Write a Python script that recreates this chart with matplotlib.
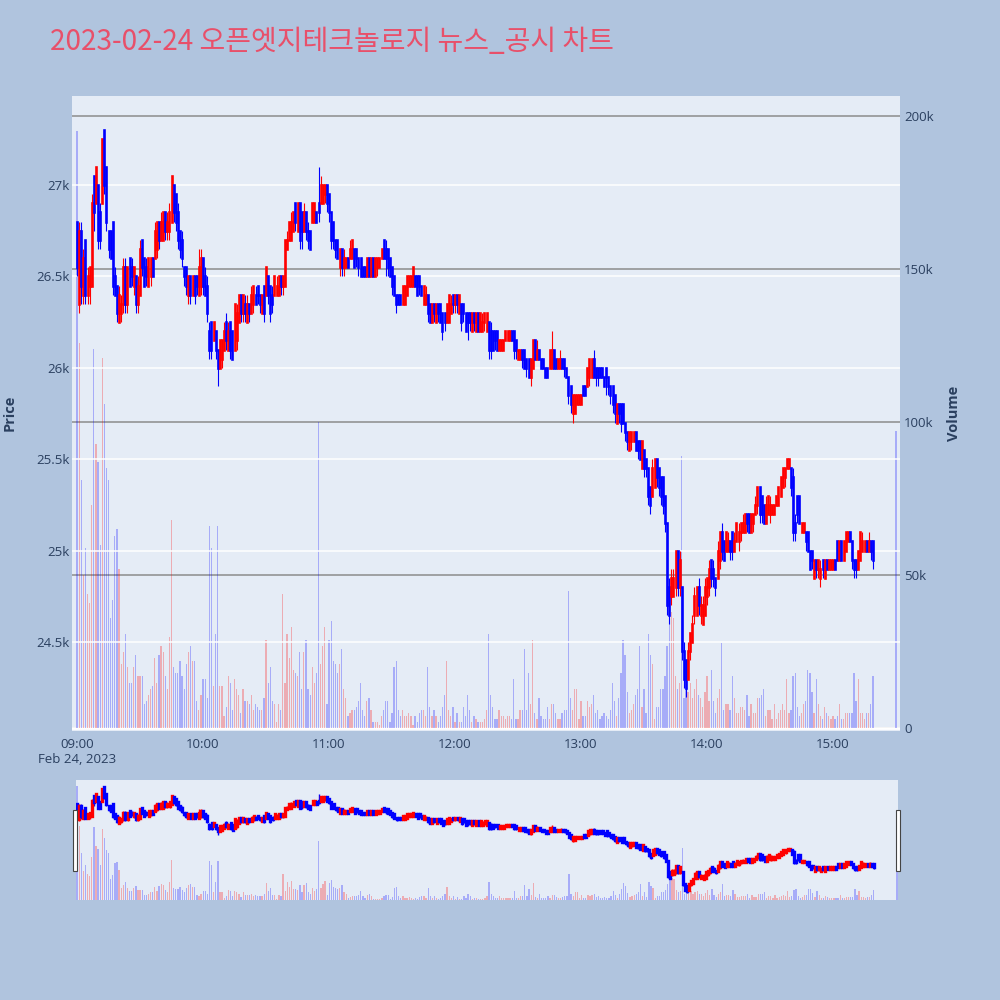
import numpy as np
import pandas as pd
import matplotlib
matplotlib.use("Agg")
import matplotlib.pyplot as plt
from matplotlib.collections import LineCollection
from matplotlib.patches import Rectangle
from matplotlib.ticker import FixedLocator
import matplotlib.dates as mdates

plt.rcParams["font.family"] = ["Open Sans", "Noto Sans CJK KR", "DejaVu Sans"]

title = "2023-02-24 오픈엣지테크놀로지 뉴스_공시 차트"
session_start = "2023-02-24 09:00"
closing_time = "2023-02-24 15:30"

# 1-minute candles, 09:00 - 15:19
open_ = [
    26800, 26350, 26750, 26400, 26700, 26400, 26450, 26450, 27050, 26900,
    27000, 26850, 26900, 27300, 27100, 26750, 26750, 26800, 26500, 26450,
    26250, 26300, 26350, 26550, 26350, 26600, 26550, 26450, 26500, 26350,
    26400, 26700, 26600, 26550, 26450, 26500, 26600, 26600, 26650, 26800,
    26700, 26700, 26850, 26750, 26750, 26800, 27000, 26950, 26850, 26750,
    26700, 26550, 26550, 26400, 26500, 26400, 26500, 26500, 26400, 26450,
    26600, 26500, 26450, 26200, 26250, 26150, 26200, 26100, 26000, 26050,
    26100, 26250, 26100, 26250, 26200, 26100, 26150, 26250, 26400, 26300,
    26350, 26250, 26350, 26300, 26350, 26400, 26450, 26400, 26300, 26450,
    26400, 26500, 26450, 26400, 26400, 26400, 26400, 26500, 26450, 26450,
    26650, 26700, 26700, 26750, 26900, 26750, 26900, 26850, 26750, 26850,
    26750, 26750, 26800, 26800, 26850, 26900, 26900, 26900, 26950, 27000,
    26950, 26850, 26800, 26700, 26700, 26550, 26650, 26550, 26550, 26600,
    26600, 26600, 26650, 26650, 26600, 26600, 26550, 26550, 26500, 26600,
    26500, 26600, 26500, 26550, 26550, 26600, 26700, 26650, 26650, 26600,
    26550, 26500, 26400, 26400, 26400, 26350, 26350, 26400, 26450, 26450,
    26450, 26500, 26500, 26500, 26450, 26350, 26350, 26400, 26350, 26250,
    26350, 26250, 26350, 26350, 26300, 26300, 26250, 26250, 26300, 26400,
    26350, 26400, 26300, 26350, 26350, 26300, 26300, 26300, 26200, 26300,
    26200, 26300, 26200, 26200, 26250, 26200, 26250, 26200, 26200, 26200,
    26200, 26100, 26100, 26100, 26150, 26150, 26150, 26200, 26200, 26150,
    26050, 26050, 26100, 26100, 26050, 26050, 25950, 26000, 26150, 26050,
    26100, 26050, 26050, 26000, 26000, 26000, 26000, 26100, 26050, 26000,
    26000, 26050, 26050, 26000, 25950, 25900, 25750, 25750, 25800, 25800,
    25800, 25900, 25900, 25900, 25950, 25950, 26050, 26000, 26000, 26000,
    26000, 25950, 26000, 25950, 25900, 25900, 25850, 25700, 25800, 25800,
    25800, 25700, 25650, 25550, 25600, 25600, 25650, 25600, 25600, 25450,
    25550, 25500, 25450, 25350, 25300, 25350, 25500, 25450, 25400, 25400,
    25300, 25150, 24800, 24750, 24750, 24800, 25000, 24800, 24800, 24450,
    24400, 24300, 24450, 24500, 24650, 24650, 24800, 24650, 24600, 24650,
    24750, 24800, 24950, 24900, 24850, 24850, 24950, 25100, 25050, 25000,
    25000, 25050, 25100, 25000, 25050, 25050, 25100, 25100, 25100, 25200,
    25200, 25100, 25150, 25200, 25250, 25350, 25300, 25250, 25150, 25200,
    25200, 25200, 25200, 25250, 25250, 25300, 25350, 25400, 25450, 25450,
    25450, 25400, 25150, 25300, 25300, 25100, 25100, 25100, 25100, 25000,
    25000, 24850, 24950, 24900, 24850, 24950, 24850, 24950, 24900, 24900,
    24900, 24950, 25050, 24950, 25050, 24950, 25000, 25050, 25100, 25050,
    24950, 24950, 24900, 24950, 25000, 25000, 25050, 25000, 25050, 25050,
]
high_ = [
    26800, 26800, 26800, 26650, 26700, 26550, 26550, 26950, 27050, 27100,
    27000, 26900, 27250, 27300, 27100, 26750, 26750, 26800, 26550, 26450,
    26450, 26400, 26600, 26600, 26550, 26600, 26600, 26550, 26500, 26500,
    26700, 26700, 26600, 26600, 26600, 26600, 26600, 26800, 26800, 26800,
    26850, 26850, 26850, 26850, 26900, 27050, 27000, 26950, 26900, 26750,
    26750, 26550, 26550, 26500, 26500, 26500, 26500, 26500, 26650, 26650,
    26600, 26550, 26500, 26250, 26250, 26250, 26200, 26100, 26150, 26150,
    26250, 26300, 26250, 26250, 26200, 26350, 26350, 26400, 26400, 26400,
    26400, 26400, 26350, 26450, 26450, 26450, 26450, 26400, 26400, 26450,
    26550, 26500, 26450, 26450, 26500, 26500, 26500, 26500, 26500, 26700,
    26750, 26800, 26850, 26850, 26900, 26900, 26900, 26850, 26900, 26850,
    26800, 26750, 26900, 26900, 26850, 27100, 27050, 27000, 27000, 27000,
    26950, 26850, 26800, 26700, 26700, 26650, 26650, 26650, 26600, 26600,
    26700, 26700, 26650, 26650, 26600, 26600, 26550, 26550, 26600, 26600,
    26600, 26600, 26600, 26600, 26600, 26650, 26700, 26700, 26650, 26600,
    26550, 26500, 26400, 26400, 26400, 26450, 26450, 26500, 26500, 26500,
    26550, 26500, 26500, 26500, 26450, 26450, 26450, 26400, 26350, 26350,
    26350, 26350, 26350, 26350, 26300, 26300, 26350, 26400, 26400, 26400,
    26400, 26400, 26400, 26350, 26350, 26300, 26300, 26300, 26300, 26300,
    26300, 26300, 26300, 26300, 26300, 26300, 26250, 26250, 26200, 26200,
    26200, 26150, 26150, 26150, 26200, 26200, 26200, 26200, 26200, 26150,
    26100, 26100, 26100, 26100, 26050, 26050, 26050, 26150, 26150, 26150,
    26100, 26050, 26050, 26000, 26000, 26100, 26200, 26100, 26050, 26050,
    26100, 26050, 26050, 26000, 25950, 25900, 25850, 25850, 25850, 25850,
    25850, 25900, 25900, 26000, 26050, 26050, 26100, 26000, 26000, 26000,
    26000, 25950, 26000, 25950, 25900, 25900, 25850, 25800, 25800, 25800,
    25800, 25700, 25650, 25650, 25650, 25650, 25650, 25600, 25600, 25600,
    25550, 25500, 25450, 25350, 25500, 25500, 25500, 25450, 25400, 25400,
    25300, 25150, 24850, 24900, 24900, 25000, 25000, 25000, 24800, 24500,
    24400, 24500, 24550, 24650, 24800, 24800, 24850, 24750, 24750, 24850,
    24850, 24950, 24950, 24950, 24850, 25050, 25100, 25150, 25050, 25100,
    25100, 25050, 25100, 25100, 25150, 25150, 25150, 25200, 25200, 25200,
    25200, 25200, 25200, 25300, 25350, 25350, 25300, 25250, 25300, 25300,
    25300, 25250, 25250, 25300, 25350, 25400, 25450, 25450, 25500, 25500,
    25450, 25450, 25200, 25300, 25300, 25150, 25150, 25100, 25100, 25000,
    25000, 24950, 24950, 24950, 24950, 24950, 24950, 24950, 24950, 24950,
    24950, 24950, 25050, 25050, 25050, 25050, 25100, 25100, 25100, 25050,
    24950, 24950, 25000, 25100, 25100, 25050, 25050, 25100, 25050, 25050,
]
low_ = [
    26500, 26300, 26350, 26350, 26350, 26350, 26350, 26450, 26750, 26900,
    26650, 26650, 26900, 26950, 26750, 26600, 26600, 26400, 26400, 26250,
    26250, 26250, 26300, 26300, 26300, 26450, 26450, 26400, 26300, 26300,
    26400, 26500, 26450, 26450, 26450, 26450, 26500, 26600, 26600, 26650,
    26700, 26700, 26700, 26700, 26700, 26800, 26800, 26750, 26650, 26600,
    26550, 26450, 26400, 26350, 26350, 26400, 26350, 26400, 26400, 26400,
    26400, 26400, 26250, 26050, 26050, 26150, 26050, 25900, 26000, 26000,
    26100, 26100, 26100, 26050, 26050, 26100, 26100, 26250, 26250, 26250,
    26250, 26250, 26250, 26300, 26300, 26350, 26350, 26300, 26300, 26250,
    26400, 26350, 26250, 26300, 26400, 26400, 26400, 26400, 26400, 26450,
    26650, 26700, 26700, 26750, 26750, 26750, 26650, 26650, 26750, 26700,
    26650, 26650, 26800, 26800, 26800, 26800, 26900, 26900, 26900, 26850,
    26800, 26650, 26650, 26600, 26600, 26500, 26500, 26500, 26550, 26550,
    26600, 26600, 26550, 26550, 26500, 26500, 26500, 26500, 26500, 26500,
    26500, 26500, 26500, 26500, 26550, 26600, 26600, 26500, 26500, 26500,
    26400, 26400, 26300, 26350, 26350, 26350, 26350, 26400, 26450, 26450,
    26450, 26450, 26400, 26400, 26400, 26350, 26350, 26250, 26250, 26250,
    26250, 26250, 26250, 26250, 26150, 26200, 26250, 26250, 26300, 26300,
    26300, 26300, 26300, 26200, 26250, 26200, 26150, 26200, 26200, 26200,
    26200, 26200, 26200, 26200, 26200, 26200, 26050, 26050, 26100, 26100,
    26100, 26100, 26100, 26100, 26150, 26150, 26150, 26150, 26050, 26050,
    26050, 26050, 26000, 26000, 25950, 25950, 25900, 26000, 26050, 26050,
    26050, 26000, 26000, 25950, 25950, 26000, 26000, 26000, 26000, 26000,
    26000, 26000, 25950, 25950, 25800, 25750, 25700, 25750, 25800, 25800,
    25800, 25850, 25850, 25900, 25900, 25950, 25950, 25900, 25900, 25950,
    25950, 25900, 25850, 25850, 25800, 25750, 25700, 25700, 25700, 25650,
    25700, 25600, 25550, 25550, 25550, 25600, 25550, 25500, 25500, 25450,
    25400, 25400, 25250, 25200, 25300, 25350, 25350, 25300, 25250, 25200,
    25100, 24650, 24600, 24700, 24750, 24750, 24750, 24750, 24400, 24250,
    24200, 24300, 24400, 24500, 24600, 24650, 24650, 24600, 24600, 24650,
    24700, 24750, 24800, 24800, 24750, 24850, 24900, 24950, 24950, 25000,
    25000, 24950, 24950, 25000, 25050, 25000, 25050, 25100, 25100, 25100,
    25100, 25100, 25100, 25200, 25200, 25150, 25150, 25150, 25150, 25200,
    25150, 25200, 25200, 25250, 25250, 25300, 25350, 25350, 25450, 25450,
    25300, 25050, 25050, 25150, 25150, 25100, 25100, 25000, 25000, 24900,
    24900, 24850, 24850, 24850, 24800, 24850, 24850, 24900, 24900, 24900,
    24900, 24900, 24950, 24950, 24950, 24950, 25000, 25050, 25050, 24900,
    24850, 24850, 24900, 24950, 25000, 25000, 25000, 25000, 24950, 24900,
]
close_ = [
    26550, 26750, 26450, 26600, 26400, 26500, 26550, 26900, 26850, 27100,
    26700, 26700, 27250, 27000, 26800, 26650, 26600, 26450, 26400, 26300,
    26400, 26350, 26550, 26350, 26550, 26450, 26500, 26550, 26350, 26450,
    26650, 26550, 26450, 26500, 26600, 26600, 26500, 26750, 26800, 26700,
    26800, 26850, 26750, 26800, 26850, 27050, 26850, 26800, 26700, 26650,
    26600, 26500, 26450, 26500, 26400, 26500, 26400, 26450, 26550, 26600,
    26450, 26400, 26300, 26100, 26100, 26250, 26100, 26000, 26150, 26150,
    26200, 26150, 26200, 26100, 26050, 26350, 26300, 26400, 26300, 26400,
    26300, 26350, 26300, 26400, 26450, 26350, 26400, 26350, 26400, 26300,
    26550, 26400, 26300, 26350, 26500, 26450, 26500, 26450, 26500, 26700,
    26700, 26800, 26800, 26850, 26800, 26900, 26700, 26750, 26850, 26750,
    26700, 26650, 26900, 26900, 26800, 26850, 27000, 27000, 27000, 26900,
    26850, 26700, 26700, 26650, 26600, 26650, 26550, 26600, 26600, 26550,
    26650, 26700, 26550, 26600, 26550, 26500, 26500, 26500, 26600, 26500,
    26600, 26500, 26600, 26600, 26600, 26650, 26600, 26600, 26550, 26500,
    26450, 26400, 26350, 26350, 26350, 26450, 26450, 26500, 26500, 26500,
    26550, 26450, 26400, 26450, 26400, 26450, 26400, 26300, 26250, 26350,
    26300, 26350, 26300, 26250, 26200, 26250, 26350, 26400, 26350, 26350,
    26400, 26350, 26400, 26250, 26300, 26200, 26250, 26250, 26300, 26250,
    26300, 26200, 26300, 26250, 26300, 26300, 26100, 26100, 26100, 26150,
    26100, 26150, 26150, 26150, 26200, 26200, 26200, 26150, 26100, 26100,
    26100, 26100, 26050, 26000, 26000, 25950, 26050, 26150, 26050, 26100,
    26050, 26000, 26000, 25950, 25950, 26100, 26100, 26000, 26000, 26050,
    26050, 26000, 26000, 25950, 25850, 25800, 25850, 25850, 25850, 25850,
    25850, 25850, 25850, 26000, 26050, 26050, 25950, 25950, 25950, 25950,
    25950, 25900, 25950, 25900, 25850, 25800, 25750, 25800, 25750, 25700,
    25700, 25650, 25600, 25650, 25650, 25650, 25550, 25550, 25500, 25600,
    25450, 25450, 25300, 25250, 25450, 25500, 25400, 25350, 25300, 25250,
    25150, 24700, 24650, 24850, 24850, 25000, 24800, 24950, 24450, 24300,
    24250, 24450, 24550, 24600, 24750, 24800, 24700, 24700, 24700, 24800,
    24850, 24900, 24850, 24850, 24800, 25000, 25100, 25000, 24950, 25100,
    25050, 25000, 25000, 25050, 25150, 25100, 25150, 25150, 25200, 25150,
    25100, 25200, 25200, 25250, 25350, 25200, 25200, 25150, 25250, 25300,
    25250, 25250, 25250, 25300, 25350, 25400, 25450, 25450, 25500, 25500,
    25350, 25100, 25100, 25200, 25150, 25150, 25150, 25050, 25000, 24900,
    24950, 24950, 24900, 24950, 24900, 24900, 24950, 24900, 24950, 24950,
    24950, 24900, 24950, 25050, 24950, 25050, 25100, 25100, 25050, 24950,
    24900, 24900, 25000, 25100, 25050, 25050, 25000, 25050, 25000, 24950,
]
# volume per minute, thousands of shares
volume_k = [
    195, 126, 81, 50, 59, 44, 41, 73, 124, 93,
    87, 60, 121, 106, 85, 81, 36, 42, 63, 65,
    52, 21, 25, 31, 20, 15, 15, 20, 24, 17,
    17, 17, 8, 9, 11, 13, 14, 23, 15, 24,
    27, 25, 17, 13, 30, 68, 20, 18, 18, 22,
    17, 13, 21, 25, 27, 22, 22, 9, 6, 11,
    16, 16, 10, 66, 59, 14, 31, 66, 14, 14,
    4, 7, 17, 15, 6, 16, 13, 11, 5, 13,
    9, 9, 8, 11, 6, 8, 7, 6, 6, 10,
    29, 15, 20, 9, 8, 2, 8, 6, 44, 15,
    31, 23, 33, 19, 18, 17, 25, 13, 25, 29,
    13, 11, 20, 15, 18, 100, 21, 27, 33, 8,
    29, 35, 22, 21, 18, 21, 26, 13, 10, 4,
    5, 6, 6, 7, 9, 15, 6, 4, 9, 10,
    6, 2, 2, 2, 1, 4, 6, 9, 9, 2,
    5, 20, 22, 6, 4, 6, 4, 4, 5, 4,
    1, 4, 2, 5, 6, 6, 4, 20, 7, 4,
    6, 4, 2, 4, 7, 11, 22, 6, 4, 7,
    2, 5, 2, 2, 7, 4, 11, 6, 2, 4,
    3, 2, 2, 2, 3, 6, 31, 11, 7, 3,
    3, 6, 4, 4, 3, 4, 4, 3, 16, 3,
    3, 6, 6, 26, 6, 18, 8, 29, 5, 3,
    10, 4, 3, 3, 7, 3, 8, 8, 5, 3,
    3, 5, 6, 6, 45, 10, 6, 13, 13, 3,
    9, 4, 4, 9, 7, 8, 11, 5, 6, 3,
    4, 5, 4, 3, 6, 15, 9, 4, 10, 18,
    29, 24, 12, 5, 6, 8, 11, 13, 27, 7,
    13, 5, 31, 24, 21, 3, 7, 7, 13, 13,
    17, 27, 36, 38, 36, 17, 13, 15, 89, 10,
    17, 12, 15, 10, 13, 16, 11, 10, 7, 12,
    17, 9, 19, 9, 5, 10, 13, 28, 6, 8,
    8, 6, 17, 10, 5, 5, 7, 7, 6, 11,
    4, 8, 5, 5, 10, 10, 11, 13, 4, 6,
    6, 3, 8, 3, 5, 6, 8, 6, 16, 5,
    6, 17, 18, 7, 4, 5, 8, 9, 19, 18,
    12, 5, 16, 8, 4, 3, 7, 5, 4, 3,
    4, 3, 4, 8, 3, 3, 5, 5, 5, 5,
    18, 9, 16, 5, 5, 3, 5, 5, 8, 17,
]
# closing auction (15:30)
closing_price = 24750
closing_volume_k = 97

price_ticks = [24500, 25000, 25500, 26000, 26500, 27000]
price_labels = ["24.5k", "25k", "25.5k", "26k", "26.5k", "27k"]
volume_ticks = [0, 50000, 100000, 150000, 200000]
volume_labels = ["0", "50k", "100k", "150k", "200k"]
hour_labels = ["09:00\nFeb 24, 2023", "10:00", "11:00", "12:00", "13:00", "14:00", "15:00"]

RED = "#ff0000"
BLUE = "#0000ff"
PAPER = "#b0c4de"
PLOT_BG = "#e5ecf6"
FONT_COLOR = "#2a3f5f"

times = pd.date_range(session_start, periods=len(close_), freq="min")
times = times.append(pd.DatetimeIndex([closing_time]))
x = mdates.date2num(times.to_pydatetime())
o = np.array(open_ + [closing_price])
h = np.array(high_ + [closing_price])
l = np.array(low_ + [closing_price])
c = np.array(close_ + [closing_price])
vol = np.array(volume_k + [closing_volume_k]) * 1000
colors = np.where(c > o, RED, BLUE)
minute = 1 / 1440


def draw_candles(ax, wick_w, body_w):
    wicks = [[(xi, lo), (xi, hi)] for xi, lo, hi in zip(x, l, h)]
    bodies = [[(xi, a), (xi, b)] for xi, a, b in zip(x, o, c)]
    ax.add_collection(LineCollection(wicks, colors=colors, linewidths=wick_w,
                                     capstyle="butt", zorder=3))
    ax.add_collection(LineCollection(bodies, colors=colors, linewidths=body_w,
                                     capstyle="projecting", zorder=4))


def draw_volume(ax):
    ax.bar(x, vol, width=0.6 * minute, color=colors, alpha=0.27, linewidth=0, zorder=2)


fig = plt.figure(figsize=(10, 10), dpi=100, facecolor=PAPER)

# main panel: volume underneath, price on a twin axis
ax_v = fig.add_axes([0.072, 0.269, 0.828, 0.635])
ax_v.set_facecolor(PLOT_BG)
ax_p = ax_v.twinx()
ax_p.patch.set_visible(False)

draw_volume(ax_v)
ax_v.set_ylim(-820, 206500)
ax_v.yaxis.set_major_locator(FixedLocator(volume_ticks))
ax_v.set_yticklabels(volume_labels)
ax_v.grid(axis="y", color="#8c8c8c", linewidth=1.1, zorder=0)
ax_v.axhline(0, color="white", linewidth=2, zorder=1)
ax_v.set_axisbelow(True)

draw_candles(ax_p, 0.8, 1.9)
ax_p.set_ylim(24013, 27487)
ax_p.yaxis.set_major_locator(FixedLocator(price_ticks))
ax_p.set_yticklabels(price_labels)
ax_p.grid(axis="y", color="white", linewidth=1.1, zorder=0)
ax_p.set_axisbelow(True)

# price labels on the left, volume labels on the right
ax_v.yaxis.tick_right()
ax_p.yaxis.tick_left()

x0 = x[0]
ax_v.set_xlim(x0 - 2.4 * minute, x0 + 391.9 * minute)
hour_ticks = mdates.date2num(pd.date_range(session_start, periods=len(hour_labels), freq="h").to_pydatetime())
ax_v.xaxis.set_major_locator(FixedLocator(hour_ticks))
ax_v.set_xticklabels(hour_labels)

for ax in (ax_v, ax_p):
    for s in ax.spines.values():
        s.set_visible(False)
    ax.tick_params(length=0, labelsize=9.5, labelcolor=FONT_COLOR)
ax_v.tick_params(axis="x", pad=5)
ax_v.tick_params(axis="y", pad=3)
ax_p.tick_params(axis="y", pad=2)

fig.text(0.050, 0.958, title, fontsize=20.2, color="#e8506a",
         family=["Noto Sans CJK KR", "DejaVu Sans"], ha="left", va="center")
fig.text(0.010, 0.587, "Price", rotation=90, ha="center", va="center",
         fontsize=10.5, fontweight="bold", color=FONT_COLOR)
fig.text(0.954, 0.587, "Volume", rotation=90, ha="center", va="center",
         fontsize=10.5, fontweight="bold", color=FONT_COLOR)

# range slider
ax_s = fig.add_axes([0.076, 0.100, 0.822, 0.120])
ax_s.set_facecolor(PLOT_BG)
draw_volume(ax_s)
ax_s.set_ylim(0, 205000)
ax_s2 = ax_s.twinx()
draw_candles(ax_s2, 1.0, 2.4)
ax_s2.set_ylim(23995, 27505)
ax_s.set_xlim(x0 - 0.5 * minute, x[-1] + 0.5 * minute)
for ax in (ax_s, ax_s2):
    ax.set_xticks([])
    ax.set_yticks([])
    for s in ax.spines.values():
        s.set_visible(False)

for left in (0.0733, 0.8963):
    fig.add_artist(Rectangle((left, 0.129), 0.0040, 0.061, transform=fig.transFigure,
                             facecolor="white", edgecolor="#444444", linewidth=0.8))

fig.savefig("out.png", dpi=100, facecolor=PAPER)
